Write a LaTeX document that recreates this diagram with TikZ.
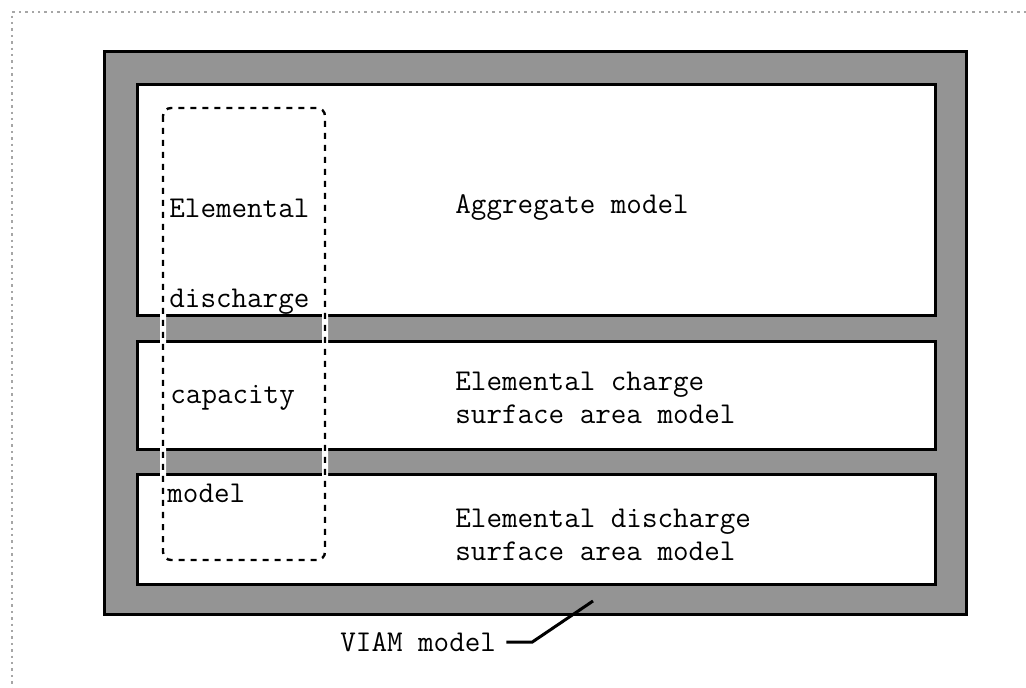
\documentclass[tikz,border=0pt]{standalone}
\usetikzlibrary{positioning}
\tikzset{
  modelbox/.style={draw=black, line width=1.5pt, fill=white},
  boxtext/.style={font=\ttfamily\fontsize{15.1}{16.5}\selectfont, inner sep=0pt, anchor=west, align=left}
}
\begin{document}
\begin{tikzpicture}[x=0.5pt, y=-0.5pt]
    \useasboundingbox (0,0) rectangle (1026,688);
    % dotted page frame
    \draw[gray!70, dotted, line width=1.2pt] (1026,12) -- (12,12) -- (12,688);
    % VIAM frame
    \draw[line width=1.5pt, fill=black!42] (104,52) rectangle (966,614);
    % the three sub-models
    \draw[modelbox] (137,85) rectangle (935,316);
    \draw[modelbox] (137,342) rectangle (935,450);
    \draw[modelbox] (137,475) rectangle (935,584);
    % elemental discharge capacity model, across all three
    \draw[dash pattern=on 3pt off 3pt, line width=1.2pt, rounded corners=4pt,
          preaction={draw=white, solid, line width=3pt}] (163,108) rectangle (325,560);
    \node[boxtext] (elem) at (169,208) {Elemental};
    \node[boxtext] (disch) at (169,302) {discharge};
    \node[boxtext] (capac) at (170,398) {capacity};
    \node[boxtext] (modl) at (167,493) {model};
    \node[boxtext] (aggr) at (455,208) {Aggregate model};
    \node[boxtext] (charge) at (455,398) {Elemental charge\\surface area model};
    \node[boxtext] (dischsa) at (455,535) {Elemental discharge\\surface area model};
    % leader to the frame
    \node[boxtext] (viam) at (340,642) {VIAM model};
    \coordinate (viamedge) at (593,601);
    \draw[line width=1.5pt] ([xshift=5pt]viam.east) -- ++(26,0) -- (viamedge);
\end{tikzpicture}
\end{document}
